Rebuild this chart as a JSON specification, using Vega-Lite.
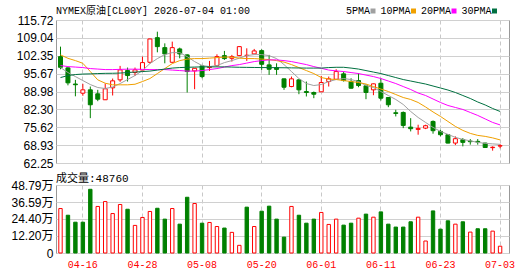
{
  "$schema": "https://vega.github.io/schema/vega-lite/v6.json",
  "background": "#ffffff",
  "padding": {"left": 10, "top": 5, "right": 5, "bottom": 5},
  "config": {
    "view": {"stroke": "#999999", "strokeWidth": 1},
    "axis": {"labelFont": "Liberation Sans, Noto Sans CJK SC", "labelFontSize": 12, "labelColor": "#000000", "ticks": false, "domain": false, "title": null, "gridColor": "#d0d0d0", "gridWidth": 1, "labelFlush": false, "labelOverlap": false}
  },
  "data": {"values": [
    {"d":"04-13","o":102.03,"h":105.76,"l":97.30,"c":98.04,"v":31.9,"ma5":97.93,"ma10":102.67,"ma20":98.68,"ma30":94.20},
    {"d":"04-14","o":97.82,"h":98.04,"l":91.29,"c":92.22,"v":27.1,"ma5":96.07,"ma10":101.40,"ma20":98.30,"ma30":94.95},
    {"d":"04-15","o":91.78,"h":93.34,"l":87.19,"c":91.52,"v":22.1,"ma5":94.57,"ma10":100.54,"ma20":98.12,"ma30":95.32},
    {"d":"04-16","o":88.35,"h":91.85,"l":87.38,"c":89.61,"v":22.1,"ma5":93.08,"ma10":99.53,"ma20":97.93,"ma30":95.51},
    {"d":"04-17","o":89.61,"h":90.84,"l":79.02,"c":84.02,"v":45.7,"ma5":91.59,"ma10":96.44,"ma20":97.56,"ma30":95.58},
    {"d":"04-20","o":88.12,"h":89.61,"l":85.36,"c":86.11,"v":33.4,"ma5":90.47,"ma10":93.34,"ma20":97.37,"ma30":95.69},
    {"d":"04-21","o":85.89,"h":91.96,"l":85.81,"c":89.99,"v":36.9,"ma5":90.10,"ma10":92.08,"ma20":97.18,"ma30":95.77},
    {"d":"04-22","o":90.36,"h":93.83,"l":87.49,"c":92.97,"v":28.3,"ma5":90.66,"ma10":91.48,"ma20":97.18,"ma30":95.80},
    {"d":"04-23","o":93.34,"h":98.56,"l":92.60,"c":97.07,"v":34.8,"ma5":91.96,"ma10":91.48,"ma20":97.26,"ma30":95.88},
    {"d":"04-24","o":96.81,"h":97.93,"l":92.71,"c":94.95,"v":31.4,"ma5":93.46,"ma10":91.48,"ma20":97.33,"ma30":96.07},
    {"d":"04-27","o":96.07,"h":97.93,"l":94.84,"c":97.07,"v":19.8,"ma5":94.95,"ma10":91.70,"ma20":97.33,"ma30":96.25},
    {"d":"04-28","o":97.00,"h":102.03,"l":96.44,"c":99.79,"v":25.5,"ma5":96.81,"ma10":92.71,"ma20":97.26,"ma30":96.44},
    {"d":"04-29","o":99.91,"h":108.74,"l":99.42,"c":108.63,"v":29.8,"ma5":99.42,"ma10":93.83,"ma20":97.18,"ma30":96.62},
    {"d":"04-30","o":109.12,"h":111.35,"l":103.64,"c":105.76,"v":32.1,"ma5":101.29,"ma10":95.69,"ma20":97.18,"ma30":97.00},
    {"d":"05-01","o":105.39,"h":106.99,"l":99.53,"c":103.04,"v":24.3,"ma5":102.78,"ma10":97.56,"ma20":97.18,"ma30":97.37},
    {"d":"05-04","o":99.91,"h":107.63,"l":99.79,"c":105.39,"v":31.9,"ma5":103.52,"ma10":99.42,"ma20":97.00,"ma30":97.74},
    {"d":"05-05","o":104.90,"h":105.39,"l":101.40,"c":103.04,"v":20.7,"ma5":103.52,"ma10":100.54,"ma20":96.81,"ma30":97.93},
    {"d":"05-06","o":102.67,"h":102.89,"l":88.61,"c":96.44,"v":40.0,"ma5":102.03,"ma10":101.10,"ma20":96.62,"ma30":98.04},
    {"d":"05-07","o":96.70,"h":97.74,"l":89.84,"c":97.67,"v":35.5,"ma5":100.17,"ma10":101.29,"ma20":96.62,"ma30":98.12},
    {"d":"05-08","o":98.56,"h":98.94,"l":93.94,"c":94.57,"v":21.4,"ma5":98.68,"ma10":101.29,"ma20":96.81,"ma30":98.19},
    {"d":"05-11","o":97.93,"h":100.43,"l":96.70,"c":98.30,"v":21.9,"ma5":98.30,"ma10":101.47,"ma20":97.18,"ma30":98.19},
    {"d":"05-12","o":98.68,"h":102.89,"l":98.30,"c":102.03,"v":19.0,"ma5":98.68,"ma10":101.66,"ma20":97.56,"ma30":98.19},
    {"d":"05-13","o":102.40,"h":104.16,"l":100.80,"c":101.29,"v":17.9,"ma5":99.79,"ma10":101.85,"ma20":98.12,"ma30":98.19},
    {"d":"05-14","o":101.40,"h":102.67,"l":100.17,"c":102.03,"v":14.8,"ma5":100.54,"ma10":101.85,"ma20":98.68,"ma30":98.12},
    {"d":"05-15","o":102.40,"h":105.95,"l":102.22,"c":105.76,"v":5.5,"ma5":101.47,"ma10":101.47,"ma20":99.05,"ma30":98.04},
    {"d":"05-18","o":102.50,"h":105.13,"l":100.43,"c":102.50,"v":32.9,"ma5":102.40,"ma10":101.29,"ma20":99.61,"ma30":98.00},
    {"d":"05-19","o":103.04,"h":104.90,"l":102.96,"c":104.16,"v":19.0,"ma5":102.78,"ma10":101.29,"ma20":100.17,"ma30":97.97},
    {"d":"05-20","o":104.27,"h":104.75,"l":97.07,"c":99.16,"v":30.0,"ma5":102.78,"ma10":101.10,"ma20":100.54,"ma30":97.93},
    {"d":"05-21","o":98.94,"h":102.67,"l":95.21,"c":97.30,"v":33.6,"ma5":102.40,"ma10":100.91,"ma20":100.80,"ma30":97.93},
    {"d":"05-22","o":97.93,"h":99.53,"l":95.21,"c":97.25,"v":24.3,"ma5":101.29,"ma10":100.54,"ma20":100.80,"ma30":97.89},
    {"d":"05-25","o":93.72,"h":93.83,"l":89.61,"c":90.58,"v":11.4,"ma5":99.05,"ma10":99.98,"ma20":100.54,"ma30":97.86},
    {"d":"05-26","o":90.84,"h":94.57,"l":90.58,"c":93.72,"v":33.4,"ma5":96.44,"ma10":99.05,"ma20":100.17,"ma30":97.82},
    {"d":"05-27","o":93.34,"h":93.57,"l":87.97,"c":89.61,"v":27.1,"ma5":93.83,"ma10":97.93,"ma20":99.61,"ma30":97.78},
    {"d":"05-28","o":88.98,"h":92.71,"l":87.12,"c":88.61,"v":21.4,"ma5":91.96,"ma10":96.81,"ma20":99.05,"ma30":97.74},
    {"d":"05-29","o":88.61,"h":88.98,"l":86.48,"c":87.97,"v":24.3,"ma5":91.22,"ma10":95.69,"ma20":98.30,"ma30":97.74},
    {"d":"06-01","o":88.87,"h":94.83,"l":88.79,"c":92.34,"v":29.1,"ma5":91.59,"ma10":94.20,"ma20":97.67,"ma30":97.74},
    {"d":"06-02","o":92.71,"h":94.57,"l":90.84,"c":93.72,"v":20.5,"ma5":92.71,"ma10":93.64,"ma20":97.00,"ma30":97.93},
    {"d":"06-03","o":93.57,"h":97.30,"l":93.46,"c":96.44,"v":24.3,"ma5":93.46,"ma10":93.46,"ma20":96.70,"ma30":98.04},
    {"d":"06-04","o":95.58,"h":96.44,"l":92.71,"c":93.08,"v":20.0,"ma5":93.83,"ma10":93.08,"ma20":96.44,"ma30":98.04},
    {"d":"06-05","o":92.71,"h":93.94,"l":90.10,"c":90.21,"v":21.4,"ma5":93.46,"ma10":92.71,"ma20":96.07,"ma30":97.74},
    {"d":"06-08","o":93.08,"h":95.80,"l":90.58,"c":91.22,"v":25.0,"ma5":92.71,"ma10":92.34,"ma20":95.69,"ma30":97.37},
    {"d":"06-09","o":91.11,"h":91.70,"l":86.11,"c":88.61,"v":27.9,"ma5":91.22,"ma10":91.78,"ma20":95.13,"ma30":96.81},
    {"d":"06-10","o":89.61,"h":91.96,"l":87.60,"c":91.85,"v":25.7,"ma5":90.47,"ma10":90.84,"ma20":94.57,"ma30":96.25},
    {"d":"06-11","o":92.08,"h":93.94,"l":85.62,"c":86.48,"v":29.5,"ma5":88.98,"ma10":89.91,"ma20":93.83,"ma30":95.69},
    {"d":"06-12","o":86.74,"h":86.93,"l":83.13,"c":84.02,"v":20.7,"ma5":87.49,"ma10":88.98,"ma20":92.90,"ma30":94.95},
    {"d":"06-15","o":81.04,"h":82.16,"l":79.66,"c":80.78,"v":18.6,"ma5":86.00,"ma10":87.86,"ma20":91.96,"ma30":94.20},
    {"d":"06-16","o":81.15,"h":81.52,"l":75.29,"c":76.30,"v":18.6,"ma5":84.13,"ma10":86.74,"ma20":90.84,"ma30":93.46},
    {"d":"06-17","o":75.67,"h":79.02,"l":74.06,"c":75.07,"v":22.4,"ma5":81.52,"ma10":86.00,"ma20":89.73,"ma30":92.90},
    {"d":"06-18","o":74.81,"h":76.56,"l":72.83,"c":75.18,"v":25.7,"ma5":79.28,"ma10":84.88,"ma20":88.42,"ma30":92.34},
    {"d":"06-19","o":75.29,"h":76.56,"l":74.92,"c":76.19,"v":8.6,"ma5":77.42,"ma10":83.20,"ma20":87.49,"ma30":91.78},
    {"d":"06-22","o":77.79,"h":78.17,"l":73.21,"c":74.33,"v":30.2,"ma5":75.56,"ma10":81.34,"ma20":86.18,"ma30":91.03},
    {"d":"06-23","o":74.06,"h":74.70,"l":72.20,"c":72.83,"v":17.1,"ma5":74.06,"ma10":79.66,"ma20":84.88,"ma30":90.29},
    {"d":"06-24","o":72.83,"h":72.95,"l":69.59,"c":69.70,"v":23.1,"ma5":72.95,"ma10":77.79,"ma20":83.76,"ma30":89.54},
    {"d":"06-25","o":69.70,"h":72.20,"l":68.96,"c":71.34,"v":20.7,"ma5":71.83,"ma10":75.93,"ma20":83.01,"ma30":88.61},
    {"d":"06-26","o":70.97,"h":71.57,"l":68.47,"c":69.96,"v":22.4,"ma5":71.08,"ma10":74.44,"ma20":82.27,"ma30":87.49},
    {"d":"06-29","o":70.45,"h":71.19,"l":69.11,"c":70.22,"v":15.0,"ma5":70.52,"ma10":73.32,"ma20":81.15,"ma30":86.37},
    {"d":"06-30","o":70.34,"h":71.19,"l":69.11,"c":70.07,"v":17.4,"ma5":69.96,"ma10":72.57,"ma20":80.03,"ma30":85.06},
    {"d":"07-01","o":69.70,"h":69.78,"l":67.99,"c":68.05,"v":17.4,"ma5":69.59,"ma10":72.20,"ma20":78.73,"ma30":83.95},
    {"d":"07-02","o":67.99,"h":68.47,"l":66.87,"c":68.15,"v":15.7,"ma5":69.40,"ma10":71.64,"ma20":77.42,"ma30":82.64},
    {"d":"07-03","o":68.58,"h":69.33,"l":67.73,"c":68.73,"v":4.876,"ma5":69.22,"ma10":70.89,"ma20":76.49,"ma30":81.52}
  ]},
  "vconcat": [
    {
      "width": 453,
      "height": 143,
      "title": {"text": "NYMEX原油[CL00Y] 2026-07-04 01:00", "anchor": "start", "frame": "group", "font": "Liberation Mono, Noto Sans CJK SC", "fontSize": 10, "fontWeight": "normal", "color": "#000000", "offset": -2},
      "encoding": {
        "x": {"field": "d", "type": "ordinal", "sort": null,
              "scale": {"type": "band", "paddingInner": 0, "paddingOuter": 0.4, "align": 0.13},
              "axis": {"values": ["04-16","04-28","05-08","05-20","06-01","06-11","06-23","07-03"], "labels": false, "grid": true, "gridDash": [4, 3], "gridColor": "#c8c8c8", "bandPosition": 0.5}}
      },
      "layer": [
        {
          "mark": {"type": "rule", "strokeWidth": 1},
          "encoding": {
            "y": {"field": "l", "type": "quantitative", "scale": {"domain": [62.25, 115.72], "nice": false, "zero": false},
                  "axis": {"values": [62.25, 68.93, 75.62, 82.30, 88.98, 95.67, 102.35, 109.04, 115.72], "format": ".2f", "grid": true, "labelPadding": 3, "labelOverlap": false, "labelFlush": false}},
            "y2": {"field": "h"},
            "color": {"condition": {"test": "datum.c >= datum.o", "value": "#ff0000"}, "value": "#008000"}
          }
        },
        {
          "mark": {"type": "bar", "width": 4, "strokeWidth": 1},
          "encoding": {
            "y": {"field": "o", "type": "quantitative",
                  "axis": {"values": [62.25, 68.93, 75.62, 82.30, 88.98, 95.67, 102.35, 109.04, 115.72], "format": ".2f", "grid": true, "labelPadding": 3, "labelOverlap": false, "labelFlush": false}},
            "y2": {"field": "c"},
            "fill": {"condition": {"test": "datum.c >= datum.o", "value": "#ffffff"}, "value": "#008000"},
            "stroke": {"condition": {"test": "datum.c >= datum.o", "value": "#ff0000"}, "value": "#008000"}
          }
        },
        {
          "transform": [{"fold": ["ma5", "ma10", "ma20", "ma30"], "as": ["k", "val"]}],
          "mark": {"type": "line", "strokeWidth": 1},
          "encoding": {
            "y": {"field": "val", "type": "quantitative",
                  "axis": {"values": [62.25, 68.93, 75.62, 82.30, 88.98, 95.67, 102.35, 109.04, 115.72], "format": ".2f", "grid": true, "labelPadding": 3, "labelOverlap": false, "labelFlush": false}},
            "color": {"field": "k", "type": "nominal",
                      "scale": {"domain": ["ma5", "ma10", "ma20", "ma30"], "range": ["#a0a0a0", "#f0a000", "#ff00ff", "#007040"]},
                      "legend": {"orient": "none", "legendX": 312, "legendY": -14, "direction": "horizontal", "title": null,
                                 "symbolType": "square", "symbolSize": 25, "symbolStrokeWidth": 0,
                                 "labelFont": "Liberation Mono", "labelFontSize": 10, "labelColor": "#000000",
                                 "labelAlign": "right", "labelOffset": -8, "columnPadding": 3.5,
                                 "labelExpr": "{'ma5':'5PMA','ma10':'10PMA','ma20':'20PMA','ma30':'30PMA'}[datum.label]",
                                 "encode": {"symbols": {"update": {"fill": {"scale": "color", "field": "value"}, "stroke": {"value": "transparent"}}}}}}
          }
        }
      ]
    },
    {
      "width": 453,
      "height": 68,
      "title": {"text": "成交量:48760", "anchor": "start", "frame": "group", "font": "Liberation Mono, Noto Sans CJK SC", "fontSize": 11, "fontWeight": "normal", "color": "#000000", "offset": -5},
      "transform": [{"window": [{"op": "lag", "field": "c", "as": "pc"}], "sort": [{"field": "d"}]}],
      "mark": {"type": "bar", "width": 3.4, "strokeWidth": 1},
      "encoding": {
        "x": {"field": "d", "type": "ordinal", "sort": null,
              "scale": {"type": "band", "paddingInner": 0, "paddingOuter": 0.4, "align": 0.13},
              "axis": {"values": ["04-16","04-28","05-08","05-20","06-01","06-11","06-23","07-03"], "labelAngle": 0, "labelColor": "#ff0000", "labelFont": "Liberation Mono", "labelFontSize": 10, "labelPadding": 6, "grid": true, "gridDash": [4, 3], "gridColor": "#c8c8c8", "bandPosition": 0.5}},
        "y": {"field": "v", "type": "quantitative", "scale": {"domain": [0, 48.79], "nice": false},
              "axis": {"values": [0, 12.2, 24.4, 36.59, 48.79], "grid": true, "labelPadding": 3, "labelOverlap": false, "labelFlush": false,
                       "labelExpr": "datum.value == 0 ? '0' : format(datum.value, '.2f') + '万'"}},
        "fill": {"condition": {"test": "datum.pc == null || datum.c >= datum.pc", "value": "#ffffff"}, "value": "#008000"},
        "stroke": {"condition": {"test": "datum.pc == null || datum.c >= datum.pc", "value": "#ff0000"}, "value": "#008000"}
      }
    }
  ],
  "bounds": "flush",
  "spacing": 22
}
